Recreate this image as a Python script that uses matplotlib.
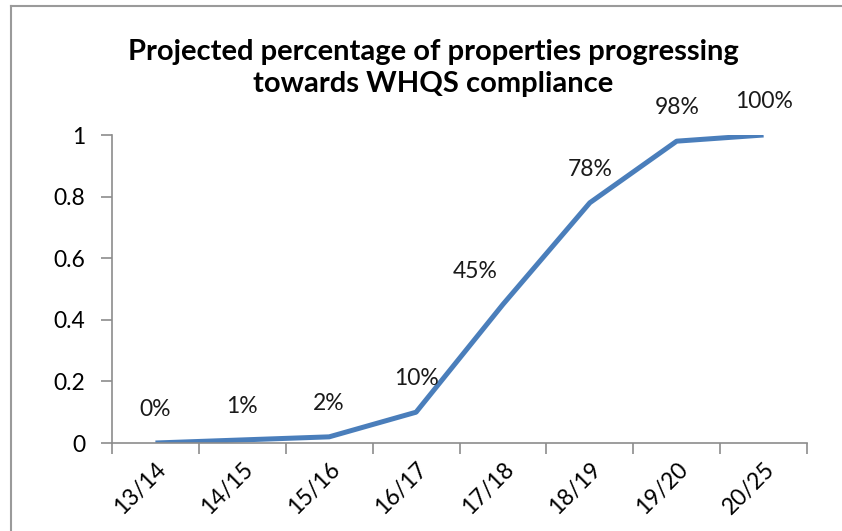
import matplotlib as mpl
import matplotlib.pyplot as plt
from matplotlib.lines import Line2D

mpl.rcParams["font.family"] = ["Lato", "DejaVu Sans"]

periods = ["13/14", "14/15", "15/16", "16/17", "17/18", "18/19", "19/20", "20/25"]
share = [0.0, 0.01, 0.02, 0.10, 0.45, 0.78, 0.98, 1.00]
labels = ["0%", "1%", "2%", "10%", "45%", "78%", "98%", "100%"]
label_dx = [0, 0, 0, 0, -20, 0, 0, 0]  # points, 45% label sits left of the line

LINE_C = "#4a7ebb"
AXIS_C = "#8c8c8c"
FS = 16.5

W, H = 842, 531
fig = plt.figure(figsize=(W / 100, H / 100), dpi=100)
ax = fig.add_axes([112 / W, 1 - 443 / H, (807 - 112) / W, (443 - 135) / H])

x = [i + 0.5 for i in range(len(periods))]
ax.plot(x, share, color=LINE_C, lw=3.6, solid_joinstyle="round", solid_capstyle="butt")

for xi, yi, lab, dx in zip(x, share, labels, label_dx):
    ax.annotate(lab, (xi, yi), xytext=(dx, 24), textcoords="offset points",
                ha="center", va="center", fontsize=FS, color="#1a1a1a")

ax.set_xlim(0, len(periods))
ax.set_ylim(0, 1)
ax.set_yticks([0, 0.2, 0.4, 0.6, 0.8, 1.0])
ax.set_yticklabels(["0", "0.2", "0.4", "0.6", "0.8", "1"], fontsize=FS)
ax.set_xticks(range(len(periods) + 1))
ax.set_xticklabels([])
ax.set_xticks(x, minor=True)
ax.set_xticklabels(periods, minor=True, rotation=45, ha="right", va="top",
                   rotation_mode="anchor", fontsize=FS)
ax.tick_params(axis="x", which="minor", length=0, pad=11)
ax.tick_params(axis="x", which="major", length=8, color=AXIS_C, width=1.2)
ax.tick_params(axis="y", length=8, color=AXIS_C, width=1.2, pad=11)

for side in ["top", "right"]:
    ax.spines[side].set_visible(False)
for side in ["left", "bottom"]:
    ax.spines[side].set_color(AXIS_C)
    ax.spines[side].set_linewidth(1.2)

fig.text(433 / W, 1 - 68 / H,
         "Projected percentage of properties progressing\ntowards WHQS compliance",
         ha="center", va="center", fontsize=21, fontweight="bold", linespacing=1.28)

# outer chart frame (left and top edges are visible in the crop)
fig.add_artist(Line2D([11 / W, 11 / W], [0, 1 - 6 / H], transform=fig.transFigure,
                      color="#9a9a9a", lw=1.5))
fig.add_artist(Line2D([11 / W, 1], [1 - 6 / H, 1 - 6 / H], transform=fig.transFigure,
                      color="#9a9a9a", lw=1.5))

fig.savefig("out.png", dpi=100)
